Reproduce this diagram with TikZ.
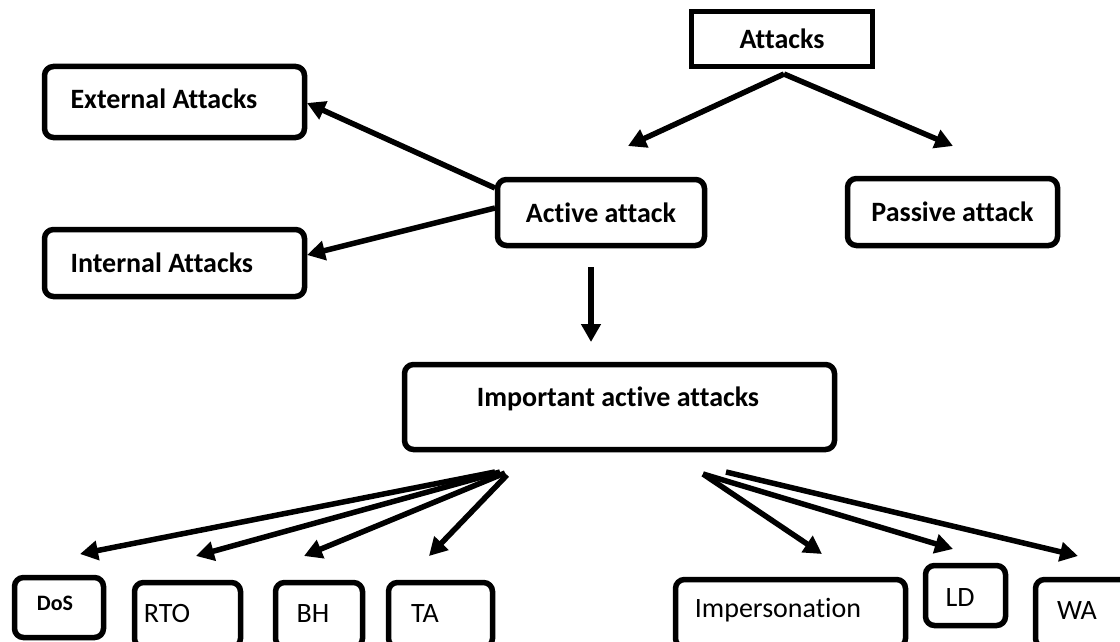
\documentclass[tikz,border=0pt]{standalone}
\usepackage{fontspec}
\setmainfont{Carlito}[Ligatures={NoCommon}]
\usetikzlibrary{arrows.meta}
\begin{document}
\begin{tikzpicture}[x=1pt,y=-1pt,
  box/.style={draw=black, line width=5.5pt, rounded corners=9pt, inner sep=0pt},
  sqbox/.style={draw=black, line width=5.5pt, inner sep=0pt},
  big/.style={font=\fontsize{28}{31}\selectfont\bfseries},
  reg/.style={font=\fontsize{28}{31}\selectfont},
  small/.style={font=\fontsize{22}{25}\selectfont\bfseries},
  conn/.style={line width=5.5pt, -{Triangle[length=18pt,width=19pt]}}]
\useasboundingbox (0,0) rectangle (1120,642);
\clip (0,0) rectangle (1120,642);
\fill[white] (0,0) rectangle (1120,642);

% top level
\node[sqbox, big, minimum width=181pt, minimum height=55pt] (att) at (782,39) {Attacks};
\node[box, big, minimum width=207pt, minimum height=66pt] (act) at (601,212.5) {Active attack};
\node[box, big, minimum width=210pt, minimum height=67pt] (pas) at (952.5,212) {Passive attack};

\node[box, minimum width=260pt, minimum height=71pt] (ext) at (174.5,102) {};
\node[big, anchor=base west] (extt) at (67,109) {External Attacks};
\node[box, minimum width=260pt, minimum height=67pt] (int) at (174.5,263) {};
\node[big, anchor=base west] (intt) at (67,272) {Internal Attacks};

\node[box, minimum width=430pt, minimum height=85pt] (imp) at (619.5,407) {};
\node[big, anchor=base] (impt) at (618,406) {Important active attacks};

% bottom boxes
\node[box, minimum width=89pt, minimum height=60pt] (dos) at (59,607.5) {};
\node[small, anchor=base] (dost) at (55,610) {DoS};
\node[box, minimum width=106pt, minimum height=65pt] (rto) at (187.5,615) {};
\node[reg, anchor=base] (rtot) at (167,622) {RTO};
\node[box, minimum width=87pt, minimum height=65pt] (bh) at (319,615) {};
\node[reg, anchor=base] (bht) at (313,622) {BH};
\node[box, minimum width=104pt, minimum height=65pt] (ta) at (440.5,615) {};
\node[reg, anchor=base] (tat) at (425,622) {TA};
\node[box, minimum width=230pt, minimum height=68pt] (ims) at (790.5,613.5) {};
\node[reg, anchor=base] (imst) at (778,617) {Impersonation};
\node[box, minimum width=80pt, minimum height=60pt] (ld) at (965.5,595.5) {};
\node[reg, anchor=base] (ldt) at (960,606) {LD};
\node[box, minimum width=97pt, minimum height=68pt] (wa) at (1084,613.5) {};
\node[reg, anchor=base] (wat) at (1077,619) {WA};

% connector end points
\coordinate (attS) at (784,74);
\coordinate (actE) at (628,146);
\coordinate (pasE) at (953,146);
\coordinate (extS) at (495,188);
\coordinate (extE) at (307,103);
\coordinate (intS) at (495,208);
\coordinate (intE) at (307,255);
\coordinate (impS) at (591,267);
\coordinate (impE) at (591,342);
\coordinate (dosS) at (495,472);
\coordinate (dosE) at (80,554);
\coordinate (rtoS) at (500,472);
\coordinate (rtoE) at (196,556);
\coordinate (bhS) at (505,473);
\coordinate (bhE) at (304,556);
\coordinate (taS) at (507,475);
\coordinate (taE) at (429,556);
\coordinate (imsS) at (703,474);
\coordinate (imsE) at (822,554);
\coordinate (ldS) at (703,474);
\coordinate (ldE) at (953,549);
\coordinate (waS) at (726,472);
\coordinate (waE) at (1078,556);

\draw[conn] (attS) -- (actE);
\draw[conn] (attS) -- (pasE);
\draw[conn] (extS) -- (extE);
\draw[conn] (intS) -- (intE);
\draw[conn] (impS) -- (impE);
\draw[conn] (dosS) -- (dosE);
\draw[conn] (rtoS) -- (rtoE);
\draw[conn] (bhS) -- (bhE);
\draw[conn] (taS) -- (taE);
\draw[conn] (imsS) -- (imsE);
\draw[conn] (ldS) -- (ldE);
\draw[conn] (waS) -- (waE);
\end{tikzpicture}
\end{document}
